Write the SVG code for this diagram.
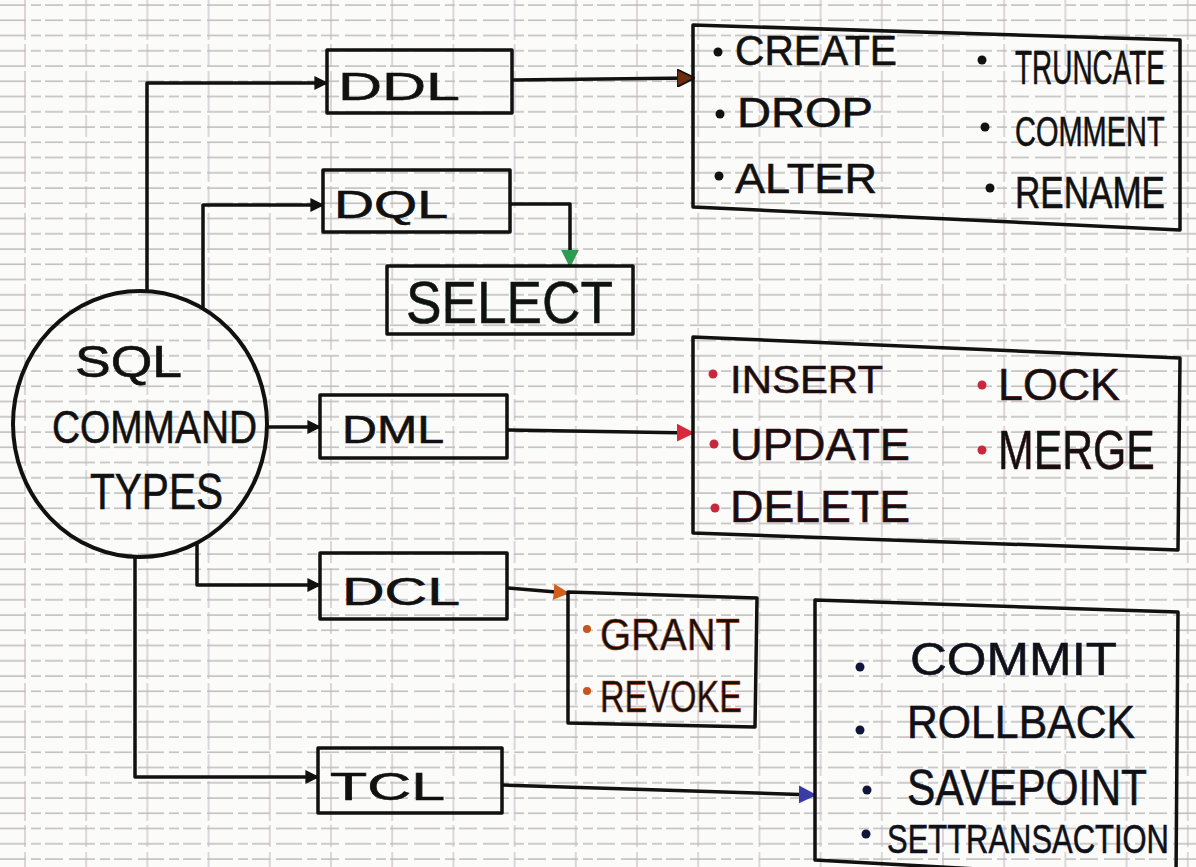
<svg xmlns="http://www.w3.org/2000/svg" width="1196" height="867" viewBox="0 0 1196 867">
  <defs>
    <!-- squared notebook paper: fine rows, wider columns -->
    <pattern id="rows" x="0" y="3" width="1196" height="15.25" patternUnits="userSpaceOnUse">
      <line x1="0" y1="2" x2="1196" y2="2" stroke="#aeabae" stroke-width="1.3" stroke-dasharray="26 5 10 4 18 6"/>
    </pattern>
    <pattern id="cols" x="24" y="0" width="61.2" height="867" patternUnits="userSpaceOnUse">
      <line x1="1" y1="0" x2="1" y2="867" stroke="#c2b8c2" stroke-width="1.1" stroke-dasharray="40 4 22 5"/>
    </pattern>
    <marker id="ah-black" viewBox="0 0 10 10" refX="9" refY="5" markerWidth="14" markerHeight="14" markerUnits="userSpaceOnUse" orient="auto">
      <path d="M0,0 L10,5 L0,10 z" fill="#111"/>
    </marker>
    <marker id="ah-brown" viewBox="0 0 10 10" refX="9" refY="5" markerWidth="18" markerHeight="18" markerUnits="userSpaceOnUse" orient="auto">
      <path d="M0,0 L10,5 L0,10 z" fill="#6b2c10" stroke="#111" stroke-width="1"/>
    </marker>
    <marker id="ah-green" viewBox="0 0 10 10" refX="9" refY="5" markerWidth="18" markerHeight="18" markerUnits="userSpaceOnUse" orient="auto">
      <path d="M0,0 L10,5 L0,10 z" fill="#2f9a52"/>
    </marker>
    <marker id="ah-red" viewBox="0 0 10 10" refX="9" refY="5" markerWidth="18" markerHeight="18" markerUnits="userSpaceOnUse" orient="auto">
      <path d="M0,0 L10,5 L0,10 z" fill="#d8283a"/>
    </marker>
    <marker id="ah-orange" viewBox="0 0 10 10" refX="9" refY="5" markerWidth="16" markerHeight="16" markerUnits="userSpaceOnUse" orient="auto">
      <path d="M0,0 L10,5 L0,10 z" fill="#d0601c"/>
    </marker>
    <marker id="ah-blue" viewBox="0 0 10 10" refX="9" refY="5" markerWidth="18" markerHeight="18" markerUnits="userSpaceOnUse" orient="auto">
      <path d="M0,0 L10,5 L0,10 z" fill="#3a3aa8"/>
    </marker>
  </defs>
  <style>
    .box { fill: none; stroke: #111; stroke-width: 3.5; stroke-linejoin: round; }
    .wire { fill: none; stroke: #111; stroke-width: 3.5; stroke-linejoin: round; }
    .t { font-family: "Liberation Sans", "DejaVu Sans", sans-serif; fill: #111; stroke: currentColor; stroke-width: 0.6; }
    .tag { font-size: 38px; }
    .item { font-size: 42px; }
    .dot { stroke: none; }
  </style>

  <!-- paper -->
  <rect x="0" y="0" width="1196" height="867" fill="#fbfbf9"/>
  <rect x="0" y="0" width="1196" height="867" fill="url(#rows)"/>
  <rect x="0" y="0" width="1196" height="867" fill="url(#cols)"/>

  <!-- connectors -->
  <g id="connectors">
    <path class="wire" d="M147,291 V83 H327" marker-end="url(#ah-black)"/>
    <path class="wire" d="M203,308 V205 H323" marker-end="url(#ah-black)"/>
    <path class="wire" d="M267,427 H320" marker-end="url(#ah-black)"/>
    <path class="wire" d="M197,543 V585 H320" marker-end="url(#ah-black)"/>
    <path class="wire" d="M135,557 V777 H318" marker-end="url(#ah-black)"/>
    <path class="wire" d="M512,80 L693,78" marker-end="url(#ah-brown)"/>
    <path class="wire" d="M510,204 H570 V266" stroke="#14301c" marker-end="url(#ah-green)"/>
    <path class="wire" d="M507,430 L693,433" stroke="#3a1010" stroke-width="3" marker-end="url(#ah-red)"/>
    <path class="wire" d="M507,588 L568,593" stroke="#5a2410" stroke-width="3" marker-end="url(#ah-orange)"/>
    <path class="wire" d="M502,785 L815,795" stroke="#10163a" stroke-width="3" marker-end="url(#ah-blue)"/>
  </g>

  <!-- central node -->
  <g id="sql-command-types" color="#111">
    <ellipse cx="140" cy="424" rx="127" ry="133" fill="none" stroke="#111" stroke-width="4"/>
    <text class="t" x="75" y="377" font-size="44" textLength="107" lengthAdjust="spacingAndGlyphs">SQL</text>
    <text class="t" x="52" y="443" font-size="46" textLength="205" lengthAdjust="spacingAndGlyphs">COMMAND</text>
    <text class="t" x="90" y="509" font-size="50" textLength="133" lengthAdjust="spacingAndGlyphs">TYPES</text>
  </g>

  <!-- command groups -->
  <g id="ddl" color="#111">
    <rect class="box" x="327" y="50" width="185" height="63"/>
    <text class="t tag" x="338" y="100" textLength="122" lengthAdjust="spacingAndGlyphs">DDL</text>
  </g>
  <g id="dql" color="#111">
    <rect class="box" x="323" y="170" width="187" height="62"/>
    <text class="t tag" x="334" y="218" textLength="114" lengthAdjust="spacingAndGlyphs">DQL</text>
  </g>
  <g id="dml" color="#111">
    <rect class="box" x="320" y="395" width="187" height="63"/>
    <text class="t tag" x="342" y="443" textLength="102" lengthAdjust="spacingAndGlyphs">DML</text>
  </g>
  <g id="dcl" color="#111">
    <rect class="box" x="320" y="553" width="187" height="66"/>
    <text class="t tag" x="342" y="605" textLength="118" lengthAdjust="spacingAndGlyphs">DCL</text>
  </g>
  <g id="tcl" color="#111">
    <rect class="box" x="318" y="748" width="184" height="65"/>
    <text class="t tag" x="330" y="800" textLength="115" lengthAdjust="spacingAndGlyphs">TCL</text>
  </g>

  <!-- query command -->
  <g id="select" color="#0f2a18">
    <rect class="box" x="387" y="266" width="246" height="68" stroke="#17402a"/>
    <text class="t" x="406" y="323" font-size="60" fill="#0f2a18" textLength="207" lengthAdjust="spacingAndGlyphs">SELECT</text>
  </g>

  <!-- definition commands -->
  <g id="ddl-commands" color="#111">
    <path class="box" d="M693,25 L1180,40 L1180,230 L693,207 Z"/>
    <circle class="dot" cx="718" cy="52" r="4.5" fill="#111"/>
    <text class="t item" x="735" y="65" textLength="162" lengthAdjust="spacingAndGlyphs">CREATE</text>
    <circle class="dot" cx="720" cy="114" r="4.5" fill="#111"/>
    <text class="t item" x="737" y="127" textLength="136" lengthAdjust="spacingAndGlyphs">DROP</text>
    <circle class="dot" cx="719" cy="176" r="4.5" fill="#111"/>
    <text class="t item" x="735" y="193" textLength="142" lengthAdjust="spacingAndGlyphs">ALTER</text>
    <circle class="dot" cx="982" cy="60" r="4.5" fill="#111"/>
    <text class="t" transform="translate(1015,84) scale(0.582,1)" font-size="48">TRUNCATE</text>
    <circle class="dot" cx="985" cy="127" r="4.5" fill="#111"/>
    <text class="t" transform="translate(1015,146) scale(0.69,1)" font-size="42">COMMENT</text>
    <circle class="dot" cx="990" cy="188" r="4.5" fill="#111"/>
    <text class="t" transform="translate(1015,208) scale(0.797,1)" font-size="44">RENAME</text>
  </g>

  <!-- manipulation commands -->
  <g id="dml-commands" color="#4a0c14">
    <path class="box" d="M693,337 L1180,358 L1178,550 L693,533 Z" stroke="#201010"/>
    <circle class="dot" cx="713" cy="374" r="4.5" fill="#c8283c"/>
    <text class="t" x="730" y="393" font-size="39" fill="#4a0c14" textLength="153" lengthAdjust="spacingAndGlyphs">INSERT</text>
    <circle class="dot" cx="714" cy="444" r="4.5" fill="#c8283c"/>
    <text class="t" x="730" y="460" font-size="44" fill="#4a0c14" textLength="180" lengthAdjust="spacingAndGlyphs">UPDATE</text>
    <circle class="dot" cx="715" cy="508" r="4.5" fill="#c8283c"/>
    <text class="t" x="730" y="522" font-size="44" fill="#4a0c14" textLength="180" lengthAdjust="spacingAndGlyphs">DELETE</text>
    <circle class="dot" cx="982" cy="385" r="4.5" fill="#c8283c"/>
    <text class="t" x="998" y="400" font-size="45" fill="#4a0c14" textLength="122" lengthAdjust="spacingAndGlyphs">LOCK</text>
    <circle class="dot" cx="982" cy="450" r="4.5" fill="#c8283c"/>
    <text class="t" transform="translate(998,469) scale(0.764,1)" font-size="56" fill="#4a0c14">MERGE</text>
  </g>

  <!-- control commands -->
  <g id="dcl-commands" color="#a83c14">
    <path class="box" d="M568,592 L757,598 L755,727 L568,723 Z" stroke="#3a1a10" stroke-width="3"/>
    <circle class="dot" cx="587" cy="629" r="4" fill="#c8561c"/>
    <text class="t" x="600" y="650" font-size="44" fill="#a83c14" textLength="140" lengthAdjust="spacingAndGlyphs">GRANT</text>
    <circle class="dot" cx="587" cy="691" r="4" fill="#c8561c"/>
    <text class="t" x="600" y="712" font-size="44" fill="#a83c14" textLength="142" lengthAdjust="spacingAndGlyphs">REVOKE</text>
  </g>

  <!-- transaction commands -->
  <g id="tcl-commands" color="#10163a">
    <path class="box" d="M815,600 L1178,612 L1176,880 L815,860 Z" stroke="#0e1430"/>
    <circle class="dot" cx="860" cy="667" r="4.5" fill="#10163a"/>
    <text class="t" x="910" y="675" font-size="46" fill="#10163a" textLength="207" lengthAdjust="spacingAndGlyphs">COMMIT</text>
    <circle class="dot" cx="860" cy="730" r="4.5" fill="#10163a"/>
    <text class="t" x="907" y="738" font-size="46" fill="#10163a" textLength="228" lengthAdjust="spacingAndGlyphs">ROLLBACK</text>
    <circle class="dot" cx="867" cy="790" r="4.5" fill="#10163a"/>
    <text class="t" transform="translate(907,805) scale(0.85,1)" font-size="50" fill="#10163a">SAVEPOINT</text>
    <circle class="dot" cx="866" cy="834" r="4.5" fill="#10163a"/>
    <text class="t" transform="translate(887,853) scale(0.774,1)" font-size="40" fill="#10163a">SETTRANSACTION</text>
  </g>
</svg>
